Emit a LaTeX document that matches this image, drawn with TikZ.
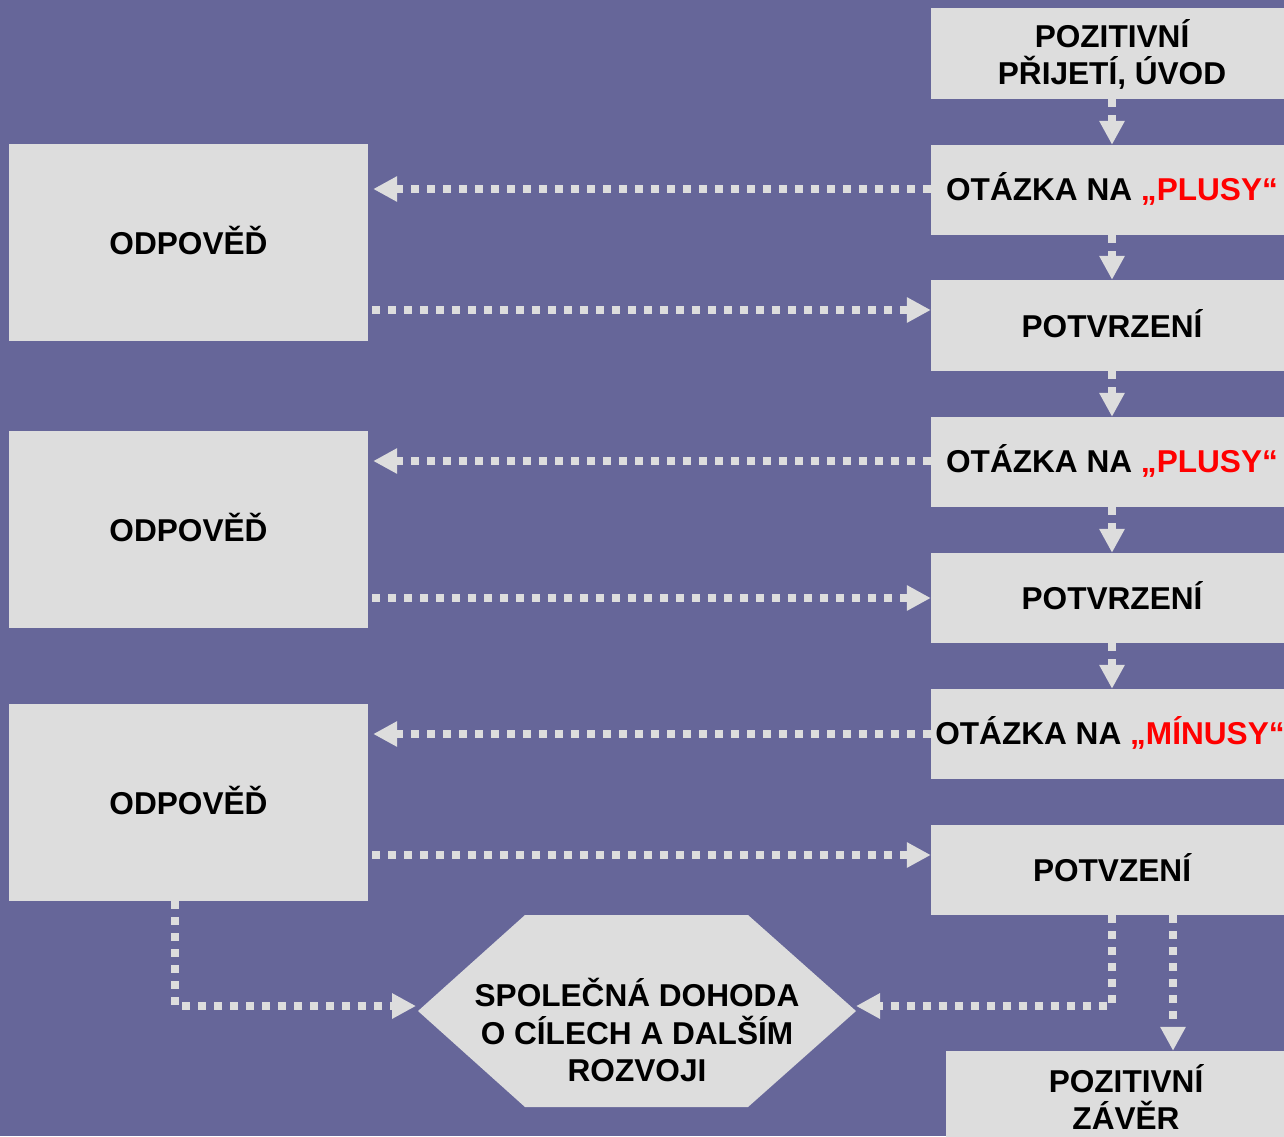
\documentclass[tikz,border=0pt]{standalone}
\usepackage{fontspec}
\setmainfont{Liberation Sans}
\usetikzlibrary{arrows.meta,calc}
\definecolor{bgc}{RGB}{102,102,153}
\definecolor{boxc}{RGB}{221,221,221}
\definecolor{redc}{RGB}{255,0,0}
\tikzset{
  box/.style={fill=boxc, draw=none, inner sep=0pt, minimum width=#1},
  box/.default=362pt,
  txt/.style={font=\fontsize{31.6}{37.5}\selectfont\bfseries, align=center, text=black, inner sep=0pt},
  arr/.style={draw=boxc, line width=8pt, dash pattern=on 8pt off 8pt, -{Triangle[width=24pt,length=24pt]}},
}
\begin{document}
\begin{tikzpicture}[x=1pt,y=-1pt]
\useasboundingbox (0,0) rectangle (1284,1136);
\clip (0,0) rectangle (1284,1136);
\fill[bgc] (0,0) rectangle (1284,1136);

% right column boxes (width 362, centred at x=1112, left edge 931)
\node[box, minimum height=91pt] (r1) at (1112,53.5) {};
\node[box, minimum height=90pt] (r2) at (1112,190) {};
\node[box, minimum height=91pt] (r3) at (1112,325.5) {};
\node[box, minimum height=90pt] (r4) at (1112,462) {};
\node[box, minimum height=90pt] (r5) at (1112,598) {};
\node[box, minimum height=90pt] (r6) at (1112,734) {};
\node[box, minimum height=90pt] (r7) at (1112,870) {};
\node[box=360pt, minimum height=120pt] (r8) at (1126,1111) {};

\node[txt] (t1) at (1112,54.5) {POZITIVNÍ\\PŘIJETÍ, ÚVOD};
\node[txt] (t2) at (1112,189) {OTÁZKA NA \textcolor{redc}{„PLUSY“}};
\node[txt] (t3) at (1112,323.5) {POTVRZENÍ};
\node[txt] (t4) at (1112,461) {OTÁZKA NA \textcolor{redc}{„PLUSY“}};
\node[txt] (t5) at (1112,596) {POTVRZENÍ};
\node[txt] (t6) at (1110,733) {OTÁZKA NA \textcolor{redc}{„MÍNUSY“}};
\node[txt] (t7) at (1112,868) {POTVZENÍ};
\node[txt] (t8) at (1126,1097) {POZITIVNÍ\\ZÁVĚR};

% left column boxes
\node[box=359pt, minimum height=197pt] (l1) at (188.5,242.5) {};
\node[box=359pt, minimum height=197pt] (l2) at (188.5,529.5) {};
\node[box=359pt, minimum height=197pt] (l3) at (188.5,802.5) {};
\node[txt] (lt1) at (188.5,240.5) {ODPOVĚĎ};
\node[txt] (lt2) at (188.5,527.5) {ODPOVĚĎ};
\node[txt] (lt3) at (188.5,800.5) {ODPOVĚĎ};

% hexagon
\fill[boxc] (418,1011) -- (525,915) -- (748,915) -- (856,1011) -- (748,1107) -- (525,1107) -- cycle;
\coordinate (hexL) at (418,1006);
\coordinate (hexR) at (856,1006);
\node[txt] (hx) at (637,1030) {SPOLEČNÁ DOHODA\\O CÍLECH A DALŠÍM\\ROZVOJI};

% vertical arrows right column
\draw[arr] (r1.south) -- (r2.north);
\draw[arr] (r2.south) -- (r3.north);
\draw[arr] (r3.south) -- (r4.north);
\draw[arr] (r4.south) -- (r5.north);
\draw[arr] (r5.south) -- (r6.north);

% horizontal arrows
\draw[arr, shorten >=5pt] ([yshift=1pt]r2.west) -- ([yshift=1pt]r2.west -| l1.east);
\draw[arr, shorten <=4pt] ([yshift=15.5pt]r3.west -| l1.east) -- ([yshift=15.5pt]r3.west);
\draw[arr, shorten >=5pt] ([yshift=1pt]r4.west) -- ([yshift=1pt]r4.west -| l2.east);
\draw[arr, shorten <=4pt] (r5.west -| l2.east) -- (r5.west);
\draw[arr, shorten >=5pt] (r6.west) -- (r6.west -| l3.east);
\draw[arr, shorten <=4pt] ([yshift=15pt]r7.west -| l3.east) -- ([yshift=15pt]r7.west);

% bottom connectors
\draw[arr, shorten >=2pt] ([xshift=-13.5pt]l3.south) |- (hexL);
\draw[arr] (r7.south) |- (hexR);
\draw[arr] ([xshift=61pt]r7.south) -- ([xshift=61pt]r7.south |- r8.north);
\end{tikzpicture}
\end{document}
